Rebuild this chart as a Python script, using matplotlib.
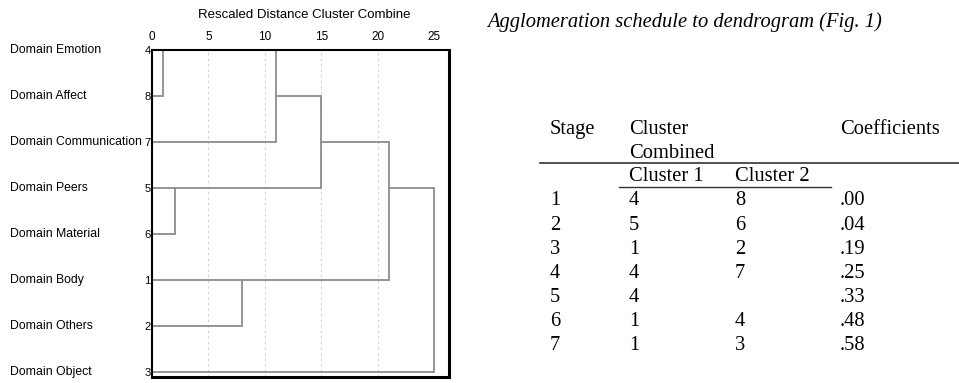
import matplotlib.pyplot as plt
from matplotlib import transforms

W, H = 959, 383

# leaves, top to bottom
leaf_names = ['Domain Emotion', 'Domain Affect', 'Domain Communication', 'Domain Peers',
              'Domain Material', 'Domain Body', 'Domain Others', 'Domain Object']
leaf_ids = [4, 8, 7, 5, 6, 1, 2, 3]

# joins on the rescaled 0-25 scale: (leaf in first cluster, leaf in second cluster, distance)
joins = [(4, 8, 1), (5, 6, 2), (1, 2, 8), (4, 7, 11), (4, 5, 15), (4, 1, 21), (4, 3, 25)]
scale_ticks = [0, 5, 10, 15, 20, 25]

# agglomeration schedule
stage = [1, 2, 3, 4, 5, 6, 7]
cluster1 = ['4', '5', '1', '4', '4', '1', '1']
cluster2 = ['8', '6', '2', '7', '', '4', '3']
coefficients = ['.00', '.04', '.19', '.25', '.33', '.48', '.58']

sans = 'Liberation Sans'
serif = 'Liberation Serif'
line_col = '#8c8c8c'

fig = plt.figure(figsize=(W / 100, H / 100), dpi=100)


def fx(px):
    return px / W


def fy(py):
    return 1 - py / H


ax = fig.add_axes([fx(152), fy(377), fx(449) - fx(152), fy(50) - fy(377)])
ax.set_xlim(0, 26.3)
ax.set_ylim(7.11, 0)

for t in scale_ticks[1:-1]:
    ax.axvline(t, color='#cfcfcf', lw=0.8, ls=(0, (2, 3)), zorder=0)

# walk the joins, each cluster keeps the row it is drawn on and its height
state = {lid: {'row': i, 'x': 0.0} for i, lid in enumerate(leaf_ids)}
for a, b, d in joins:
    ca, cb = state[a], state[b]
    for c in (ca, cb):
        ax.plot([c['x'], d], [c['row'], c['row']], color=line_col, lw=1.3, solid_capstyle='butt')
    ax.plot([d, d], [ca['row'], cb['row']], color=line_col, lw=1.3)
    merged = {'row': (ca['row'] + cb['row']) // 2, 'x': d}
    for k, v in list(state.items()):
        if v is ca or v is cb:
            state[k] = merged

ax.xaxis.tick_top()
ax.set_xticks(scale_ticks)
ax.set_xticklabels([str(t) for t in scale_ticks], fontsize=8.5, family=sans)
ax.tick_params(axis='x', length=0, pad=5)
ax.set_yticks(range(len(leaf_ids)))
ax.set_yticklabels([str(i) for i in leaf_ids], fontsize=8, family=sans)
ax.tick_params(axis='y', length=0, pad=1)
for side in ['top', 'left']:
    ax.spines[side].set_linewidth(1.5)
for side in ['right', 'bottom']:
    ax.spines[side].set_linewidth(2.2)

lab_tr = transforms.blended_transform_factory(fig.transFigure, ax.transData)
for i, name in enumerate(leaf_names):
    ax.text(fx(10), i, name, transform=lab_tr, fontsize=8.8, family=sans,
            ha='left', va='center')

fig.text(fx(304), fy(15), 'Rescaled Distance Cluster Combine', fontsize=9.5,
         family=sans, ha='center', va='center')

# schedule table on the right
fig.text(fx(487), fy(22), 'Agglomeration schedule to dendrogram (Fig. 1)',
         fontsize=14.8, family=serif, style='italic', ha='left', va='center')

tsize = 14.8
col_x = [550, 629, 735, 840]
fig.text(fx(col_x[0]), fy(130), 'Stage', fontsize=tsize, family=serif, va='center')
fig.text(fx(col_x[1]), fy(130), 'Cluster', fontsize=tsize, family=serif, va='center')
fig.text(fx(col_x[3]), fy(130), 'Coefficients', fontsize=tsize, family=serif, va='center')
fig.text(fx(col_x[1]), fy(153), 'Combined', fontsize=tsize, family=serif, va='center')
fig.add_artist(plt.Line2D([fx(540), fx(959)], [fy(163), fy(163)], color='#333333', lw=1.2))
fig.text(fx(col_x[1]), fy(176), 'Cluster 1', fontsize=tsize, family=serif, va='center')
fig.text(fx(col_x[2]), fy(176), 'Cluster 2', fontsize=tsize, family=serif, va='center')
fig.add_artist(plt.Line2D([fx(619), fx(831)], [fy(187), fy(187)], color='#333333', lw=1.0))

for r in range(len(stage)):
    y = fy(201 + 24 * r)
    row = [str(stage[r]), cluster1[r], cluster2[r], coefficients[r]]
    for cx, val in zip(col_x, row):
        fig.text(fx(cx), y, val, fontsize=tsize, family=serif, va='center')

fig.savefig('out.png', dpi=100)
